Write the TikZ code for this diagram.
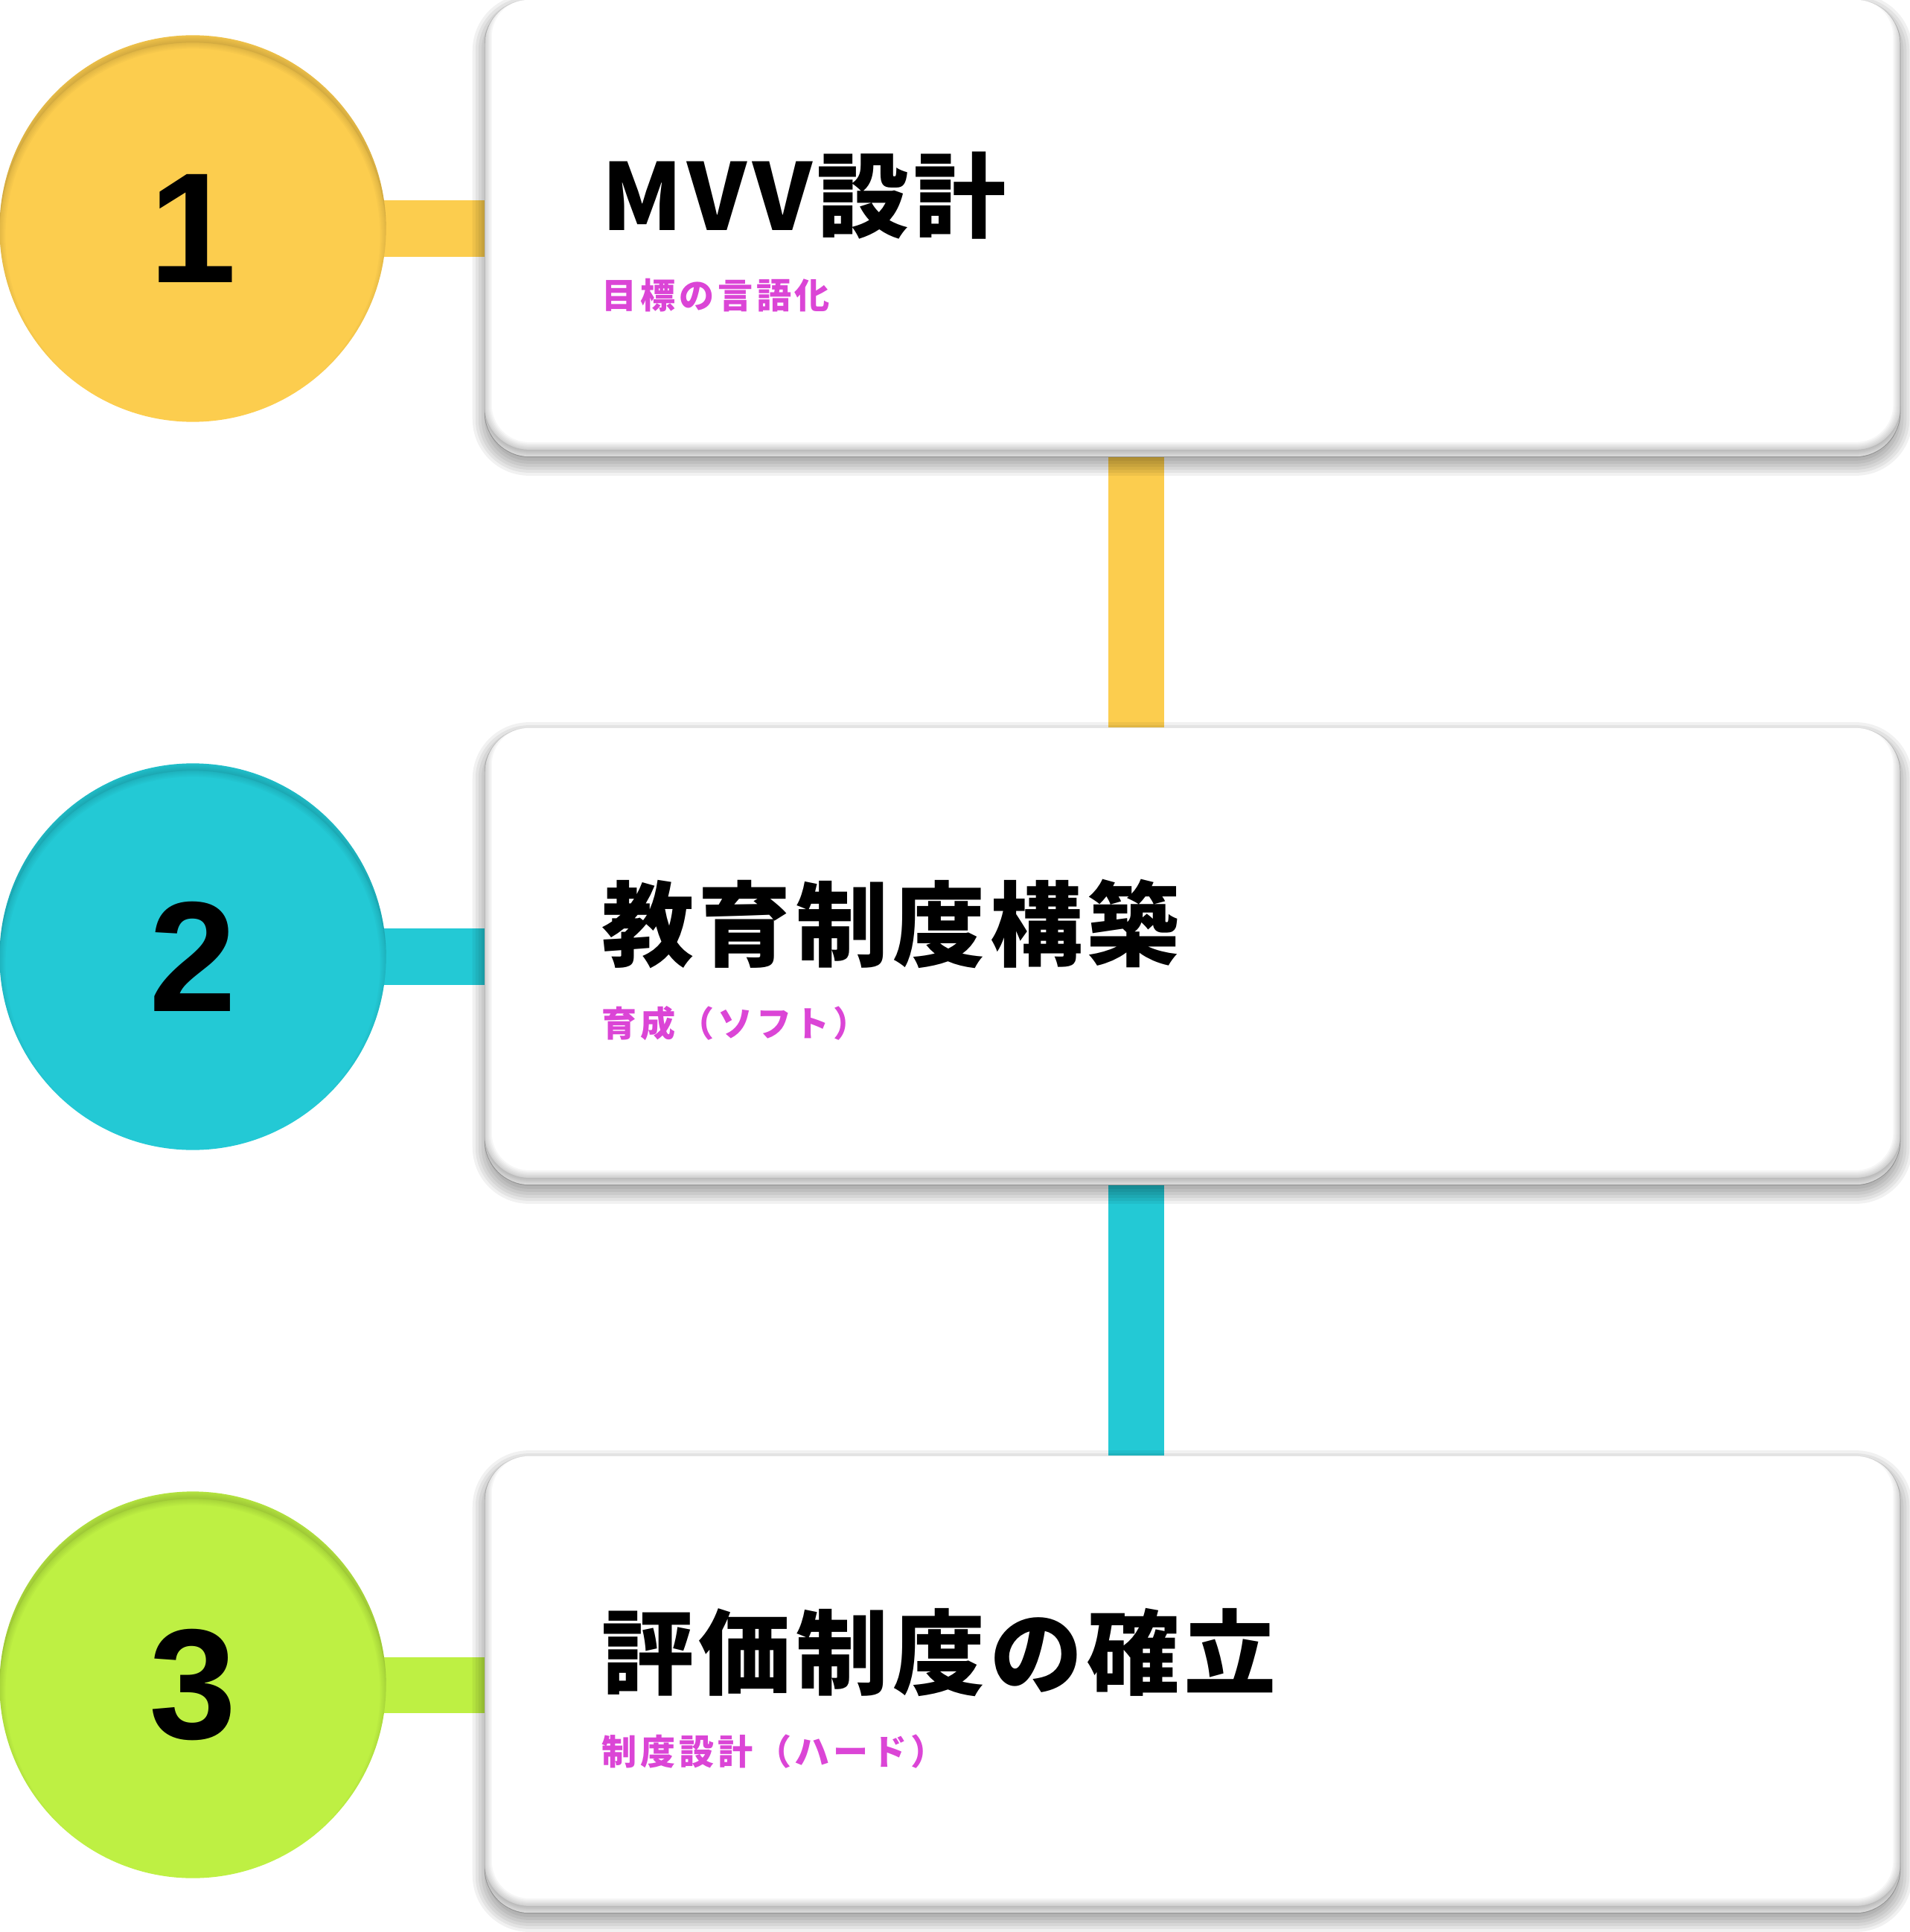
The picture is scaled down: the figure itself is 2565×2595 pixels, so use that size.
\documentclass[tikz,border=0pt]{standalone}
\usepackage{fontspec}
\setmainfont{Liberation Sans}
\newfontfamily\jptitle{Noto Sans CJK JP}[LetterSpace=5]
\newfontfamily\jpsub{Noto Sans CJK JP}[LetterSpace=10]
\definecolor{cyel}{HTML}{FCCD4E}
\definecolor{cteal}{HTML}{23C9D5}
\definecolor{clime}{HTML}{BEF043}
\definecolor{subpink}{HTML}{DB45D6}
\pgfdeclarelayer{bg}
\pgfdeclarelayer{shadowlayer}
\pgfsetlayers{bg,shadowlayer,main}
\tikzset{
  card/.style={rectangle, rounded corners=0.6cm, fill=white, minimum width=19cm, minimum height=6.13cm, inner sep=0pt},
  badge/.style={circle, minimum size=5.19cm, inner sep=0pt},
  conn/.style={line width=0.75cm},
  titletext/.style={anchor=west, inner sep=0pt, font=\jptitle\bfseries\fontsize{35.3pt}{40pt}\selectfont},
  subtext/.style={anchor=west, inner sep=0pt, text=subpink, font=\jpsub\bfseries\fontsize{13.4pt}{16pt}\selectfont},
  numtext/.style={inner sep=0pt, font=\bfseries\fontsize{60pt}{70pt}\selectfont},
}
\begin{document}
\begin{tikzpicture}[x=0.01cm,y=-0.01cm]
\useasboundingbox (0,0) rectangle (2565,2595);
\begin{pgfonlayer}{bg}
  \fill[white] (0,0) rectangle (2565,2595);
\end{pgfonlayer}

% cards
\foreach \i/\cy in {1/306.5,2/1284.5,3/2262.5}{
  \node[card] (b\i) at (1602,\cy) {};
  \begin{pgfonlayer}{shadowlayer}
    \foreach \e in {0.16,0.12,0.08,0.04,0.0,-0.04,-0.08,-0.12}{
      \pgfmathsetmacro\rr{0.6+\e}
      \pgfmathsetmacro\ex{-\e}
      \pgfmathsetmacro\ylo{-0.09-\e}
      \pgfmathsetmacro\yhi{-0.09+\e}
      \fill[black, fill opacity=0.055, rounded corners=\rr cm]
        ([xshift=\ex cm, yshift=\ylo cm]b\i.south west) rectangle ([xshift=\e cm, yshift=\yhi cm]b\i.north east);
    }
  \end{pgfonlayer}
  \begin{scope}
    \clip[rounded corners=0.6cm] (b\i.south west) rectangle (b\i.north east);
    \fill[black, fill opacity=0.10, even odd rule, rounded corners=0.6cm]
      ([xshift=-1cm,yshift=-1cm]b\i.south west) rectangle ([xshift=1cm,yshift=1cm]b\i.north east)
      ([yshift=0.1cm]b\i.south west) rectangle ([yshift=0.1cm]b\i.north east);
    \foreach \w in {0.04,0.08,0.12,0.16,0.2}
      \draw[black, draw opacity=0.035, line width=\w cm, rounded corners=0.6cm]
        ([yshift=0.1cm]b\i.south west) rectangle ([yshift=0.1cm]b\i.north east);
  \end{scope}
}

% circles
\foreach \i/\cy/\col in {1/307/cyel,2/1285/cteal,3/2263/clime}{
  \node[badge, fill=\col] (c\i) at (259,\cy) {};
  \begin{scope}
    \clip (c\i.center) circle (2.595cm);
    \fill[black, fill opacity=0.06, even odd rule]
      ([xshift=-3cm,yshift=-3cm]c\i.center) rectangle ([xshift=3cm,yshift=3cm]c\i.center)
      ([yshift=-0.1cm]c\i.center) circle (2.595cm);
    \foreach \w in {0.04,0.08,0.12,0.16}
      \draw[black, draw opacity=0.025, line width=\w cm] ([yshift=-0.1cm]c\i.center) circle (2.595cm);
  \end{scope}
  \node[numtext] (n\i) at (c\i.center) {\i};
}

% connectors
\coordinate (vx) at (1526,0);
\begin{pgfonlayer}{bg}
  \draw[conn, cyel] (c1.center) -- (c1.center -| b1.west);
  \draw[conn, cteal] (c2.center) -- (c2.center -| b2.west);
  \draw[conn, clime] (c3.center) -- (c3.center -| b3.west);
  \draw[conn, cyel] (b1.south -| vx) -- (b2.north -| vx);
  \draw[conn, cteal] (b2.south -| vx) -- (b3.north -| vx);
\end{pgfonlayer}

% texts
\node[titletext] (t1) at (808,263) {MVV設計};
\node[subtext] (s1) at (808,397) {目標の言語化};
\node[titletext] (t2) at (808,1241) {教育制度構築};
\node[subtext] (s2) at (808,1375) {育成（ソフト）};
\node[titletext] (t3) at (808,2219) {評価制度の確立};
\node[subtext] (s3) at (808,2353) {制度設計（ハード）};
\end{tikzpicture}
\end{document}
